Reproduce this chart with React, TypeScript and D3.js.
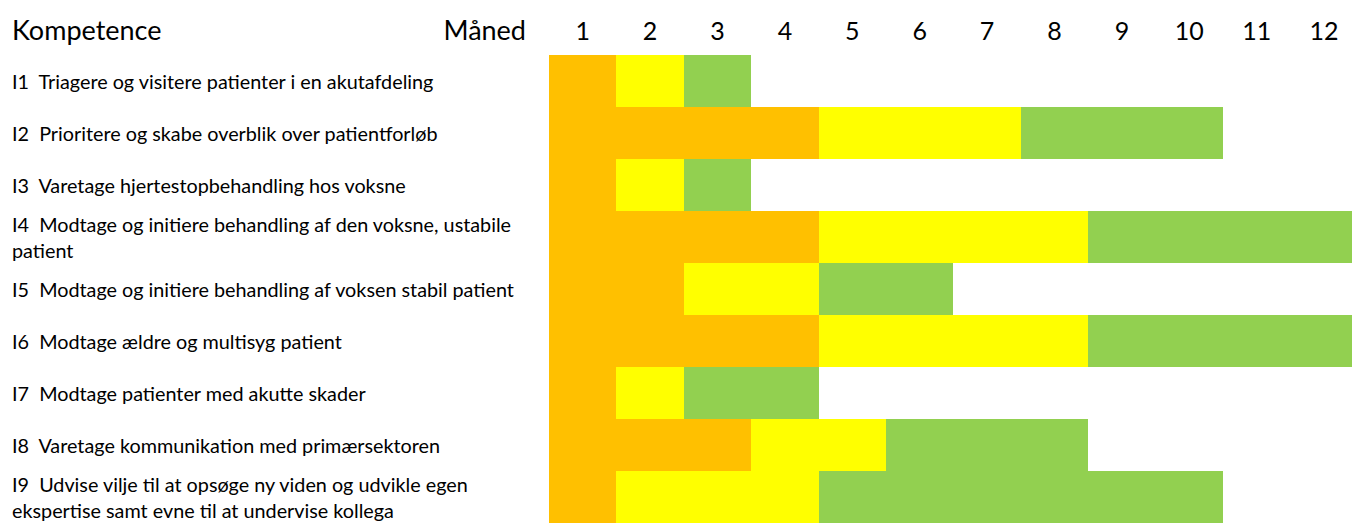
import { useEffect, useRef } from "react"
import * as d3 from "d3"

// competence rows
const ids = ["I1", "I2", "I3", "I4", "I5", "I6", "I7", "I8", "I9"]
const labels = [
  ["Triagere og visitere patienter i en akutafdeling"],
  ["Prioritere og skabe overblik over patientforløb"],
  ["Varetage hjertestopbehandling hos voksne"],
  ["Modtage og initiere behandling af den voksne, ustabile", "patient"],
  ["Modtage og initiere behandling af voksen stabil patient"],
  ["Modtage ældre og multisyg patient"],
  ["Modtage patienter med akutte skader"],
  ["Varetage kommunikation med primærsektoren"],
  ["Udvise vilje til at opsøge ny viden og udvikle egen", "ekspertise samt evne til at undervise kollega"],
]

// months spent in each phase (orange, yellow, green)
const orangeMonths = [1, 4, 1, 4, 2, 4, 1, 3, 1]
const yellowMonths = [1, 3, 1, 4, 2, 4, 1, 2, 3]
const greenMonths = [1, 3, 1, 4, 2, 4, 2, 3, 6]

const months = ["1", "2", "3", "4", "5", "6", "7", "8", "9", "10", "11", "12"]
const phaseColors = ["#FFC000", "#FFFF00", "#92D050"]

export default function App() {
  const svgRef = useRef<SVGSVGElement>(null)

  useEffect(() => {
    document.body.style.margin = "0"
    if (!svgRef.current) return
    const svg = d3.select(svgRef.current)
    svg.selectAll("*").remove()

    const width = 1352
    const height = 523
    const font = "Lato, 'Open Sans', sans-serif"

    const x = d3.scaleLinear().domain([0, 12]).range([549, 549 + 12 * 67.4])
    const y = d3.scaleBand<string>().domain(ids).range([55, 523]).padding(0)

    // stacked segments
    const segs = ids.flatMap((id, i) => {
      const parts = [orangeMonths[i], yellowMonths[i], greenMonths[i]]
      let start = 0
      return parts.map((m, p) => {
        const s = { id, start, end: start + m, color: phaseColors[p] }
        start += m
        return s
      })
    })

    svg
      .append("g")
      .selectAll("rect")
      .data(segs)
      .enter()
      .append("rect")
      .attr("x", (d) => x(d.start))
      .attr("y", (d) => y(d.id)!)
      .attr("width", (d) => x(d.end) - x(d.start))
      .attr("height", y.bandwidth())
      .attr("fill", (d) => d.color)
      .attr("shape-rendering", "crispEdges")

    // header
    svg
      .append("text")
      .attr("x", 12)
      .attr("y", 40)
      .attr("font-family", font)
      .attr("font-size", 27)
      .attr("fill", "#000")
      .text("Kompetence")

    svg
      .append("text")
      .attr("x", 526)
      .attr("y", 40)
      .attr("text-anchor", "end")
      .attr("font-family", font)
      .attr("font-size", 27)
      .attr("fill", "#000")
      .text("Måned")

    svg
      .append("g")
      .selectAll("text")
      .data(months)
      .enter()
      .append("text")
      .attr("x", (_, i) => x(i + 0.5))
      .attr("y", 40)
      .attr("text-anchor", "middle")
      .attr("font-family", font)
      .attr("font-size", 25)
      .attr("fill", "#000")
      .text((d) => d)

    // row labels
    const rows = svg.append("g").selectAll("text").data(ids).enter().append("text")
      .attr("font-family", font)
      .attr("font-size", 19.8)
      .attr("fill", "#000")

    rows.each(function (id, i) {
      const lines = labels[i]
      const cy = y(id)! + y.bandwidth() / 2
      const lh = 26.5
      const top = cy - ((lines.length - 1) * lh) / 2 + 8
      lines.forEach((line, j) => {
        d3.select(this)
          .append("tspan")
          .attr("x", 12)
          .attr("y", top + j * lh)
          .text(j === 0 ? `${id}\u00a0\u00a0${line}` : line)
      })
    })

    svg.attr("width", width).attr("height", height)
  }, [])

  return <svg ref={svgRef} style={{ display: "block", background: "#fff" }} />
}
